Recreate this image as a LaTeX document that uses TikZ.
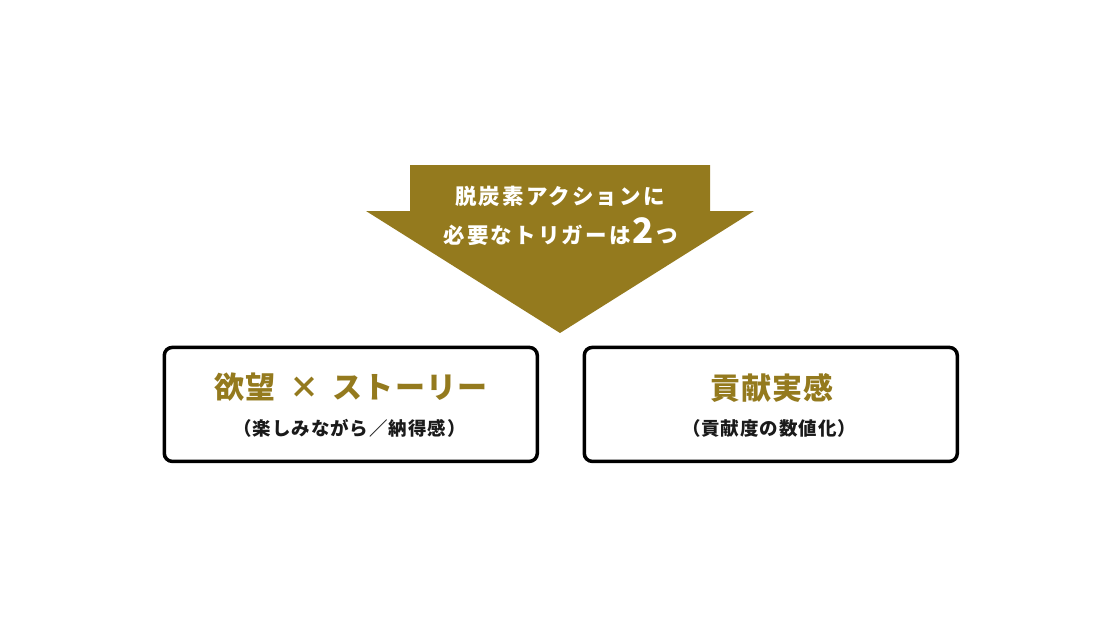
\documentclass[tikz,border=0pt]{standalone}
\usepackage{fontspec}
\newfontfamily\jpfont{Noto Sans CJK JP}
\definecolor{trigold}{RGB}{148,122,30}
\definecolor{subblack}{RGB}{26,26,26}
\tikzset{
  trigbox/.style={draw=black, line width=3.5pt, rounded corners=8pt, fill=white,
    minimum width=373pt, minimum height=114pt},
  headtext/.style={text=white, inner sep=0pt,
    font=\jpfont\bfseries\fontsize{21.5}{26}\selectfont\addfontfeatures{LetterSpace=10}},
  maintitle/.style={text=trigold, inner sep=0pt,
    font=\jpfont\bfseries\fontsize{30}{34}\selectfont\addfontfeatures{LetterSpace=4}},
  subtitle/.style={text=subblack, inner sep=0pt,
    font=\jpfont\bfseries\fontsize{18.5}{22}\selectfont\addfontfeatures{LetterSpace=5}}
}
\begin{document}
\begin{tikzpicture}[x=1pt, y=-1pt]
\useasboundingbox (0,0) rectangle (1120,630);
\fill[trigold] (410,165) -- (710,165) -- (710,211) -- (754,211) -- (560,333) -- (366,211) -- (410,211) -- cycle;
\node (head1) at (560,196.3) [headtext] {脱炭素アクションに};
\node (head2) at (561,231.7) [headtext] {必要なトリガーは\hspace{2pt}{\fontsize{35}{36}\selectfont 2}\hspace{3pt}つ};
\node (left) at (350.8,404.4) [trigbox] {};
\node (right) at (770.8,404.4) [trigbox] {};
\node (lefttitle) at (351,387.5) [maintitle] {欲望\hspace{0.45em}×\hspace{0.45em}ストーリー};
\node (leftsub) at (349.5,428.3) [subtitle] {（楽しみながら／納得感）};
\node (righttitle) at (772,387.5) [maintitle] {貢献実感};
\node (rightsub) at (769,428.3) [subtitle] {（貢献度の数値化）};
\end{tikzpicture}
\end{document}
